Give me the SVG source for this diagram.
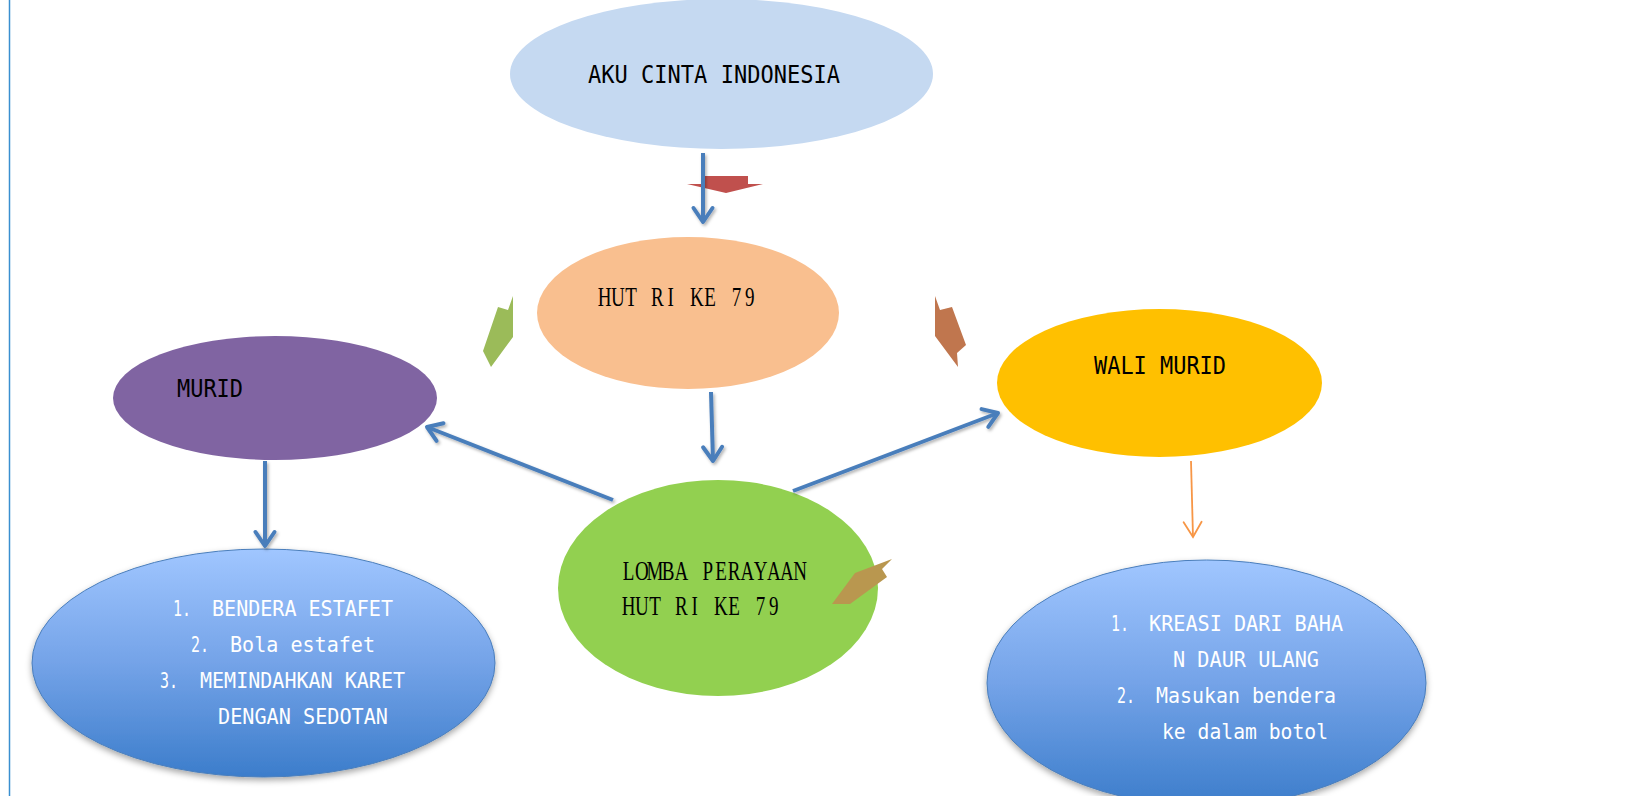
<svg xmlns="http://www.w3.org/2000/svg" width="1631" height="796" viewBox="0 0 1631 796">
<defs>
<style>
.goth{font-family:"DejaVu Sans Mono","Liberation Mono",monospace;font-size:24px;fill:#000}
.wht{font-family:"DejaVu Sans Mono","Liberation Mono",monospace;font-size:22px;fill:#fff}
.ser{font-family:"Liberation Serif","DejaVu Serif",serif;font-size:28px;fill:#000;text-anchor:middle}
.conn{stroke:#4a7ebb;stroke-width:4;fill:none;filter:url(#sh)}
</style>
<linearGradient id="blueg" x1="0" y1="0" x2="0" y2="1">
<stop offset="0" stop-color="#a0c6ff"/>
<stop offset="0.5" stop-color="#74a3e8"/>
<stop offset="1" stop-color="#3c7dcb"/>
</linearGradient>
<filter id="sh" filterUnits="userSpaceOnUse" x="0" y="0" width="1631" height="796">
<feDropShadow dx="1.5" dy="2" stdDeviation="1.5" flood-color="#000" flood-opacity="0.3"/>
</filter>
<filter id="esh" x="-10%" y="-10%" width="120%" height="130%">
<feDropShadow dx="0" dy="3" stdDeviation="3" flood-color="#000" flood-opacity="0.35"/>
</filter>
<marker id="ab" viewBox="-18 -12 20 24" refX="0" refY="0" markerWidth="20" markerHeight="24" markerUnits="userSpaceOnUse" orient="auto" overflow="visible">
<path d="M-14,-9.5 L0,0 L-14,9.5" fill="none" stroke="#4a7ebb" stroke-width="4" stroke-linecap="round" stroke-linejoin="round"/>
</marker>
<marker id="ao" viewBox="-18 -12 20 24" refX="0" refY="0" markerWidth="20" markerHeight="24" markerUnits="userSpaceOnUse" orient="auto" overflow="visible">
<path d="M-15,-9 L0,0 L-15,9" fill="none" stroke="#f79646" stroke-width="1.8" stroke-linecap="round"/>
</marker>
</defs>
<rect width="1631" height="796" fill="#fff"/>
<line x1="9.5" y1="0" x2="9.5" y2="796" stroke="#3a8fd0" stroke-width="1.5"/>

<g id="aku">
<ellipse cx="721.5" cy="74" rx="211.5" ry="75" fill="#c5d9f1"/>
<text class="goth" x="588" y="83" textLength="252" lengthAdjust="spacingAndGlyphs">AKU CINTA INDONESIA</text>
</g>

<g id="hut">
<ellipse cx="688" cy="313" rx="151" ry="76" fill="#f9bf8f"/>
<text class="ser" transform="translate(598,306) scale(0.68,1)" x="9.7 29.1 48.5 67.9 87.3 106.8 126.2 145.6 165 184.4 203.8 223.2" y="0">HUT RI KE 79</text>
</g>

<g id="murid">
<ellipse cx="275" cy="398" rx="162" ry="62" fill="#8064a2"/>
<text class="goth" x="177" y="397" textLength="66" lengthAdjust="spacingAndGlyphs">MURID</text>
</g>

<g id="wali">
<ellipse cx="1159.5" cy="383" rx="162.5" ry="74" fill="#ffc000"/>
<text class="goth" x="1094" y="374" textLength="132" lengthAdjust="spacingAndGlyphs">WALI MURID</text>
</g>

<g id="lomba">
<ellipse cx="718" cy="588" rx="160" ry="108" fill="#92d050"/>
<text class="ser" transform="translate(622,580) scale(0.68,1)" x="9.7 29.1 48.5 67.9 87.3 106.8 126.2 145.6 165 184.4 203.8 223.2 242.6 262.1" y="0">LOMBA PERAYAAN</text>
<text class="ser" transform="translate(622,615) scale(0.68,1)" x="9.7 29.1 48.5 67.9 87.3 106.8 126.2 145.6 165 184.4 203.8 223.2" y="0">HUT RI KE 79</text>
</g>

<g id="lomba-murid">
<ellipse cx="263.5" cy="663" rx="231.5" ry="114" fill="url(#blueg)" stroke="#4a7ebb" stroke-width="1" filter="url(#esh)"/>
<text class="wht" x="173" y="616" textLength="18" lengthAdjust="spacingAndGlyphs">1.</text>
<text class="wht" x="212" y="616" textLength="181" lengthAdjust="spacingAndGlyphs">BENDERA ESTAFET</text>
<text class="wht" x="191" y="652" textLength="18" lengthAdjust="spacingAndGlyphs">2.</text>
<text class="wht" x="230" y="652" textLength="145" lengthAdjust="spacingAndGlyphs">Bola estafet</text>
<text class="wht" x="160" y="688" textLength="18" lengthAdjust="spacingAndGlyphs">3.</text>
<text class="wht" x="200" y="688" textLength="205" lengthAdjust="spacingAndGlyphs">MEMINDAHKAN KARET</text>
<text class="wht" x="218" y="724" textLength="170" lengthAdjust="spacingAndGlyphs">DENGAN SEDOTAN</text>
</g>

<g id="lomba-wali">
<ellipse cx="1206.5" cy="683" rx="219.5" ry="123" fill="url(#blueg)" stroke="#4a7ebb" stroke-width="1" filter="url(#esh)"/>
<text class="wht" x="1111" y="631" textLength="18" lengthAdjust="spacingAndGlyphs">1.</text>
<text class="wht" x="1149" y="631" textLength="194" lengthAdjust="spacingAndGlyphs">KREASI DARI BAHA</text>
<text class="wht" x="1173" y="667" textLength="146" lengthAdjust="spacingAndGlyphs">N DAUR ULANG</text>
<text class="wht" x="1117" y="703" textLength="18" lengthAdjust="spacingAndGlyphs">2.</text>
<text class="wht" x="1156" y="703" textLength="180" lengthAdjust="spacingAndGlyphs">Masukan bendera</text>
<text class="wht" x="1162" y="739" textLength="166" lengthAdjust="spacingAndGlyphs">ke dalam botol</text>
</g>

<g id="decor">
<polygon points="705,176 748,176 748,184 763,184 726,193 687,184 705,184" fill="#c0504d"/>
<polygon points="513,296 513,337 491,367 483,351 498,307 508,310" fill="#9bbb59"/>
<polygon points="935,296 940,310 952,307 966,345 957,353 958,367 935,336" fill="#c0764e"/>
<polygon points="892,559 882,569 887,577 850,604 832,604 855,573" fill="#b9974f"/>
</g>

<g id="connectors">
<line class="conn" x1="703" y1="153" x2="703" y2="222" marker-end="url(#ab)"/>
<line class="conn" x1="711" y1="392" x2="713" y2="461" marker-end="url(#ab)"/>
<line class="conn" x1="265" y1="461" x2="265" y2="546" marker-end="url(#ab)"/>
<line class="conn" x1="613" y1="500" x2="427" y2="427" marker-end="url(#ab)"/>
<line class="conn" x1="793" y1="491" x2="998" y2="413" marker-end="url(#ab)"/>
<line x1="1191" y1="461" x2="1193" y2="537" stroke="#f79646" stroke-width="1.8" marker-end="url(#ao)"/>
</g>
</svg>
